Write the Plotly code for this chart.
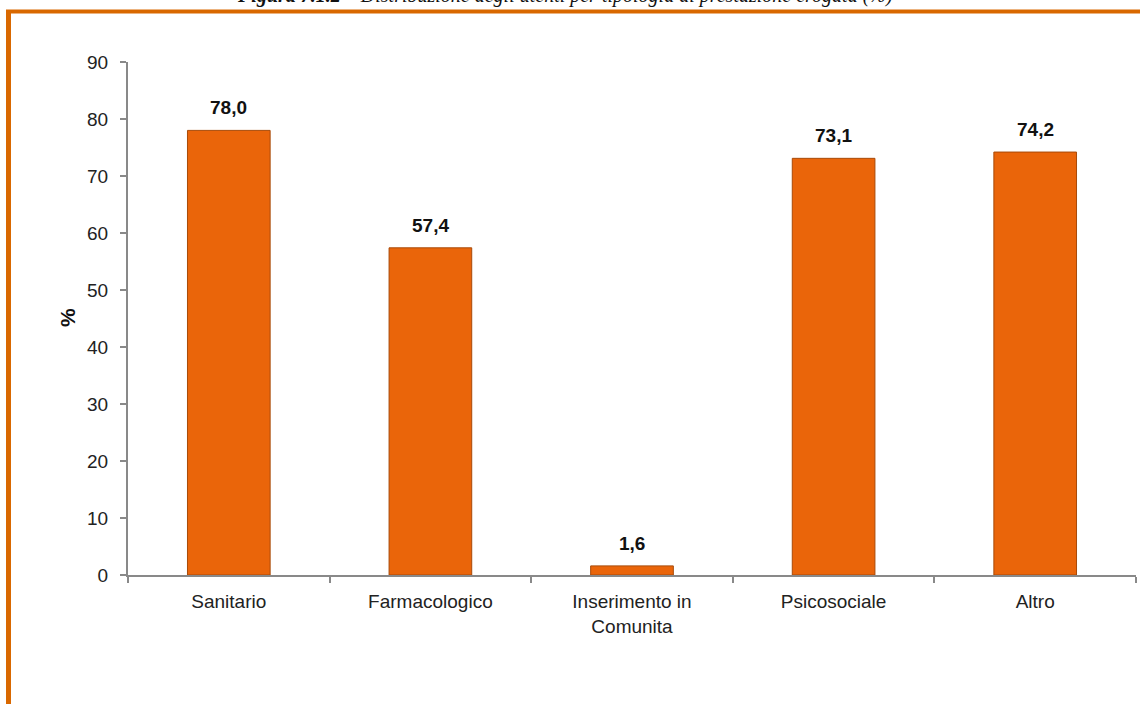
import plotly.graph_objects as go

categories = ["Sanitario", "Farmacologico", "Inserimento in<br>Comunita", "Psicosociale", "Altro"]
values = [78.0, 57.4, 1.6, 73.1, 74.2]
labels = ["78,0", "57,4", "1,6", "73,1", "74,2"]
y_ticks = [0, 10, 20, 30, 40, 50, 60, 70, 80, 90]

W, H = 1140, 704
L, R, T, B = 128, 4, 62, 129
pw = W - L - R
ph = H - T - B

def px_x(p):
    return (p - L) / pw

def px_y(p):
    return (H - B - p) / ph

fig = go.Figure()
fig.add_trace(go.Bar(
    x=categories, y=values, width=0.41,
    marker=dict(color="#EA650A", line=dict(color="#A84A08", width=1)),
    hoverinfo="skip",
))

for c, v, t in zip(categories, values, labels):
    fig.add_annotation(x=c, y=v, text="<b>" + t + "</b>", showarrow=False,
                       yanchor="bottom", yshift=10,
                       font=dict(family="Liberation Sans, Arial", size=19, color="#111111"))

# figure title (cut off at top, as in the original page)
fig.add_annotation(xref="paper", yref="paper", x=px_x(565), y=px_y(-4),
                   text="<b><i>Figura 7.1.2</i></b><i> – Distribuzione degli utenti per tipologia di prestazione erogata (%)</i>",
                   showarrow=False, xanchor="center", yanchor="middle",
                   font=dict(family="Liberation Serif, Times New Roman", size=20, color="#111111"))
fig.add_annotation(xref="paper", yref="paper", x=px_x(67), y=px_y(318), text="<b>%</b>",
                   showarrow=False, textangle=-90, xanchor="center", yanchor="middle",
                   font=dict(family="Liberation Sans, Arial", size=21, color="#111111"))

# orange frame
fig.add_shape(type="line", xref="paper", yref="paper", x0=px_x(6), x1=px_x(1145), y0=px_y(11.5), y1=px_y(11.5),
              line=dict(color="#D96800", width=4))
fig.add_shape(type="line", xref="paper", yref="paper", x0=px_x(8.5), x1=px_x(8.5), y0=px_y(10), y1=px_y(710),
              line=dict(color="#D96800", width=5))

fig.update_layout(
    width=W, height=H,
    margin=dict(l=L, r=R, t=T, b=B),
    paper_bgcolor="white", plot_bgcolor="white",
    showlegend=False, bargap=0.6,
    font=dict(family="Liberation Sans, Arial", size=19, color="#222222"),
)
fig.update_xaxes(showline=True, linecolor="#898989", linewidth=2, ticks="outside",
                 tickson="boundaries", ticklen=6, tickcolor="#898989", tickwidth=2,
                 showgrid=False, ticklabelstandoff=8, tickfont=dict(size=19, color="#222222"))
fig.update_yaxes(range=[0, 90], tickvals=y_ticks, showline=True, linecolor="#898989", linewidth=2,
                 ticks="outside", ticklen=6, tickcolor="#898989", tickwidth=2, showgrid=False,
                 zeroline=False, ticklabelstandoff=8, tickfont=dict(size=19, color="#222222"))

fig.write_html("out.html", config={"displayModeBar": False},
               post_script="document.body.style.margin='0px';")
